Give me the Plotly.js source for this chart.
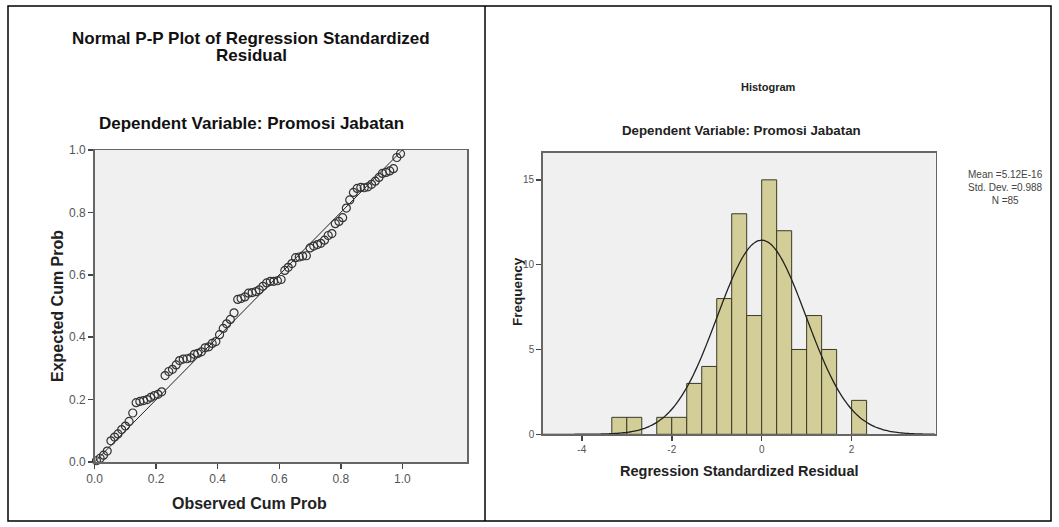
<!DOCTYPE html>
<html><head><meta charset="utf-8">
<script src="https://cdn.plot.ly/plotly-3.0.1.min.js"></script>
<style>html,body{margin:0;padding:0;background:#fff}#chart{width:1059px;height:527px}</style>
</head><body><div id="chart"></div>
<script>
// ---- P-P plot data ----
const observedCumProb = [0.006,0.018,0.029,0.041,0.053,0.065,0.076,0.088,0.100,0.112,
0.124,0.135,0.147,0.159,0.171,0.182,0.194,0.206,0.218,0.229,
0.241,0.253,0.265,0.276,0.288,0.300,0.312,0.324,0.335,0.347,
0.359,0.371,0.382,0.394,0.406,0.418,0.429,0.441,0.453,0.465,
0.476,0.488,0.500,0.512,0.524,0.535,0.547,0.559,0.571,0.582,
0.594,0.606,0.618,0.629,0.641,0.653,0.665,0.676,0.688,0.700,
0.712,0.724,0.735,0.747,0.759,0.771,0.782,0.794,0.806,0.818,
0.829,0.841,0.853,0.865,0.876,0.888,0.900,0.912,0.924,0.935,
0.947,0.959,0.971,0.982,0.994];
const expectedCumProb = [0.004,0.012,0.022,0.035,0.068,0.080,0.090,0.104,0.115,0.130,
0.157,0.190,0.194,0.197,0.200,0.207,0.213,0.217,0.225,0.277,
0.290,0.297,0.311,0.325,0.330,0.331,0.334,0.345,0.348,0.353,
0.366,0.369,0.380,0.386,0.408,0.428,0.443,0.457,0.478,0.521,
0.524,0.529,0.541,0.543,0.546,0.552,0.563,0.574,0.579,0.579,
0.581,0.585,0.614,0.624,0.636,0.655,0.657,0.660,0.661,0.686,
0.692,0.697,0.701,0.711,0.726,0.732,0.764,0.771,0.783,0.814,
0.840,0.864,0.877,0.880,0.879,0.882,0.890,0.900,0.912,0.925,
0.928,0.933,0.940,0.976,0.988];
const refLineX = [0, 1];
const refLineY = [0, 1];
const ppTicks = [0, 0.2, 0.4, 0.6, 0.8, 1.0];

// ---- Histogram data ----
const binCenters = [-3.1667,-2.8333,-2.1667,-1.8333,-1.5,-1.1667,-0.8333,-0.5,-0.1667,0.1667,0.5,0.8333,1.1667,1.5,2.1667];
const binCounts  = [1,1,1,1,3,4,8,13,7,15,12,5,7,5,2];
const binWidth = 1/3;
const histXTicks = [-4, -2, 0, 2];
const histXTickLabels = ['-4', '-2', '0', '2'];
const histYTicks = [0, 5, 10, 15];
const residMean = 5.12e-16;
const residSD = 0.988;
const residN = 85;

// ---- layout helpers (pixel -> paper) ----
const W = 1059, H = 527;
const px = x => x / W;
const py = y => 1 - y / H;
const FONT = 'Liberation Sans, Arial, sans-serif';

// normal curve from the stated mean / sd / N
const histXRange = [-4.87, 3.87];
const curveX = [], curveY = [];
for (let x = histXRange[0]; x <= histXRange[1] + 1e-9; x += 0.04) {
  const z = (x - residMean) / residSD;
  curveX.push(x);
  curveY.push(residN * binWidth * Math.exp(-0.5 * z * z) / (residSD * Math.sqrt(2 * Math.PI)));
}

const traces = [
  {type:'scatter', mode:'lines', x: refLineX, y: refLineY, xaxis:'x', yaxis:'y',
   line:{color:'#222', width:1}, hoverinfo:'skip', cliponaxis:false},
  {type:'scatter', mode:'markers', x: observedCumProb, y: expectedCumProb, xaxis:'x', yaxis:'y',
   marker:{symbol:'circle-open', size:8, color:'#333', line:{width:1.2, color:'#333'}}, cliponaxis:false},
  {type:'bar', x: binCenters, y: binCounts, width: binCenters.map(()=>binWidth), xaxis:'x2', yaxis:'y2',
   marker:{color:'#d3ce97', line:{color:'#3a3a2a', width:1}}},
  {type:'scatter', mode:'lines', x: curveX, y: curveY, xaxis:'x2', yaxis:'y2',
   line:{color:'#222', width:1.3, shape:'spline'}, hoverinfo:'skip'}
];

const axisCommon = {showgrid:false, zeroline:false, showline:true, mirror:true, linecolor:'#666', linewidth:1.5,
  ticks:'outside', ticklen:5, tickcolor:'#444', tickwidth:1.5, fixedrange:true};

const layout = {
  width: W, height: H, margin:{l:0,r:0,t:0,b:0},
  paper_bgcolor:'#fff', plot_bgcolor:'#f0f0f0', showlegend:false, bargap:0,
  font:{family: FONT, color:'#222'},
  xaxis: Object.assign({}, axisCommon, {domain:[px(94.6), px(467)], range:[0, 1.21], anchor:'y',
    tickvals: ppTicks, tickformat:'.1f', tickfont:{size:12, color:'#555'}}),
  yaxis: Object.assign({}, axisCommon, {domain:[py(462), py(150)], range:[0, 1], anchor:'x',
    tickvals: ppTicks, tickformat:'.1f', tickfont:{size:12, color:'#555'}}),
  xaxis2: Object.assign({}, axisCommon, {domain:[px(542.7), px(935.7)], range: histXRange, anchor:'y2',
    tickvals: histXTicks, ticktext: histXTickLabels, tickfont:{size:10, color:'#555'}}),
  yaxis2: Object.assign({}, axisCommon, {domain:[py(434.3), py(152.7)], range:[0, 16.6], anchor:'x2',
    tickvals: histYTicks, tickfont:{size:10, color:'#555'}}),
  shapes: [
    {type:'rect', xref:'paper', yref:'paper', x0:px(8), x1:px(1051), y0:py(521), y1:py(6), line:{color:'#000', width:1.5}},
    {type:'line', xref:'paper', yref:'paper', x0:px(485), x1:px(485), y0:py(521), y1:py(6), line:{color:'#000', width:1.5}}
  ],
  annotations: [
    {text:'<b>Normal P-P Plot of Regression Standardized</b>', x:px(251), y:py(39), xref:'paper', yref:'paper', showarrow:false, xanchor:'center', yanchor:'middle', font:{size:17, color:'#111'}},
    {text:'<b>Residual</b>', x:px(251), y:py(56), xref:'paper', yref:'paper', showarrow:false, xanchor:'center', yanchor:'middle', font:{size:17, color:'#111'}},
    {text:'<b>Dependent Variable: Promosi Jabatan</b>', x:px(251), y:py(123), xref:'paper', yref:'paper', showarrow:false, xanchor:'center', yanchor:'middle', font:{size:17, color:'#111'}},
    {text:'<b>Expected Cum Prob</b>', x:px(57), y:py(306), xref:'paper', yref:'paper', showarrow:false, textangle:-90, xanchor:'center', yanchor:'middle', font:{size:16, color:'#222'}},
    {text:'<b>Observed Cum Prob</b>', x:px(249), y:py(503), xref:'paper', yref:'paper', showarrow:false, xanchor:'center', yanchor:'middle', font:{size:16, color:'#222'}},
    {text:'<b>Histogram</b>', x:px(768), y:py(87), xref:'paper', yref:'paper', showarrow:false, xanchor:'center', yanchor:'middle', font:{size:11, color:'#222'}},
    {text:'<b>Dependent Variable: Promosi Jabatan</b>', x:px(741), y:py(130), xref:'paper', yref:'paper', showarrow:false, xanchor:'center', yanchor:'middle', font:{size:13.3, color:'#222'}},
    {text:'<b>Frequency</b>', x:px(517), y:py(292), xref:'paper', yref:'paper', showarrow:false, textangle:-90, xanchor:'center', yanchor:'middle', font:{size:13.5, color:'#222'}},
    {text:'<b>Regression Standardized Residual</b>', x:px(739), y:py(471), xref:'paper', yref:'paper', showarrow:false, xanchor:'center', yanchor:'middle', font:{size:14.5, color:'#222'}},
    {text:'Mean =5.12E-16<br>Std. Dev. =0.988<br>N =85', x:px(1005), y:py(188), xref:'paper', yref:'paper', showarrow:false, xanchor:'center', yanchor:'middle', align:'center', font:{size:10, color:'#444'}}
  ]
};

Plotly.newPlot('chart', traces, layout, {staticPlot:true, displayModeBar:false});
</script>
</body></html>
